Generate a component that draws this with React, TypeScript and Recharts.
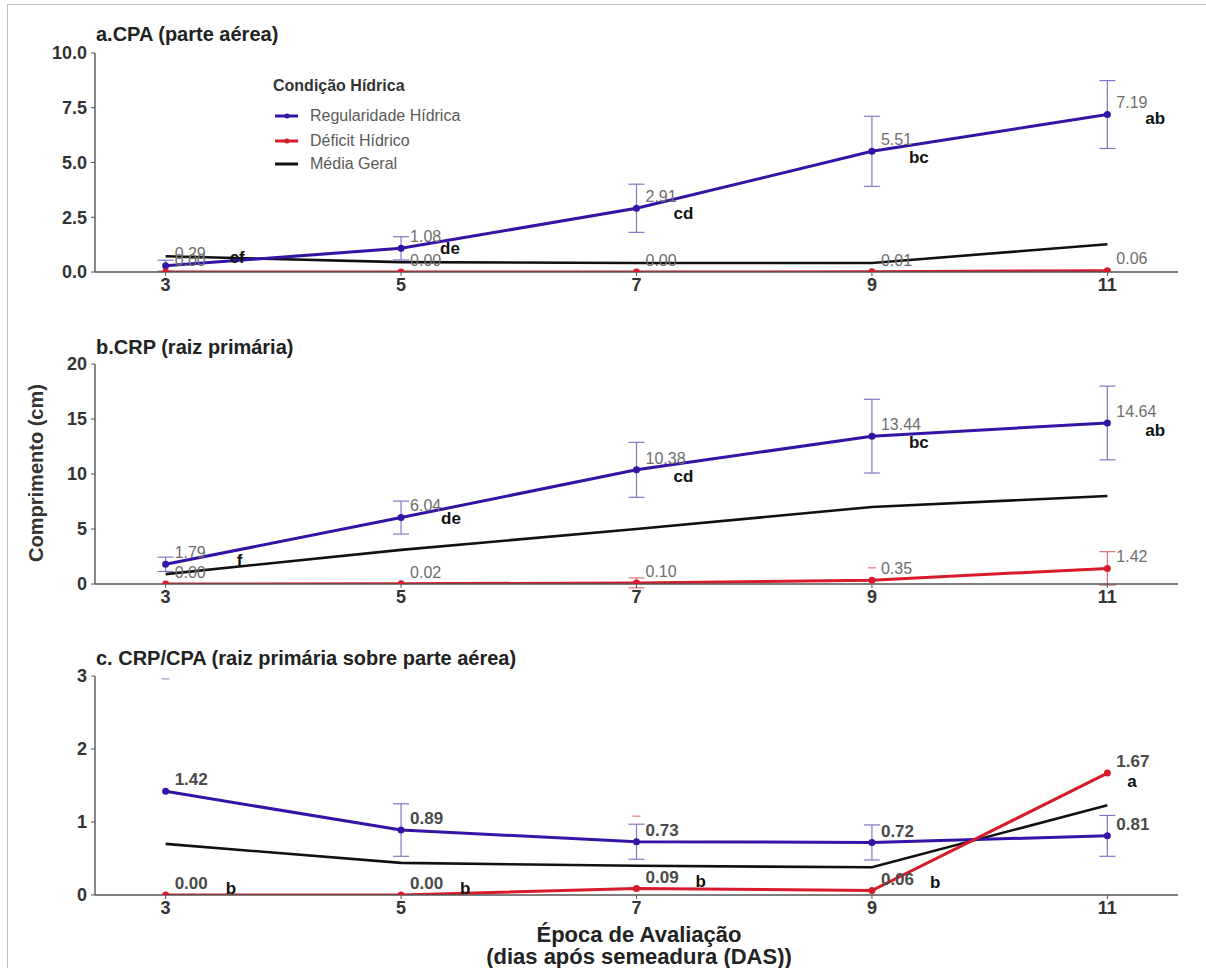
import React from "react";
import { ComposedChart, Line, XAxis, YAxis, ErrorBar, LabelList, Scatter } from "recharts";

const days = [3, 5, 7, 9, 11];

// a. CPA (parte aérea)
const cpaRegular = [0.29, 1.08, 2.91, 5.51, 7.19];
const cpaRegularErr = [0.25, 0.53, 1.1, 1.6, 1.55];
const cpaDeficit = [0.0, 0.0, 0.0, 0.01, 0.06];
const cpaDeficitErr = [0, 0, 0, 0, 0];
const cpaMedia = [0.72, 0.45, 0.41, 0.41, 1.27];
const cpaLetters = ["ef", "de", "cd", "bc", "ab"];
const cpaTicks = [0, 2.5, 5, 7.5, 10];

// b. CRP (raiz primária)
const crpRegular = [1.79, 6.04, 10.38, 13.44, 14.64];
const crpRegularErr = [0.65, 1.5, 2.5, 3.35, 3.35];
const crpDeficit = [0.0, 0.02, 0.1, 0.35, 1.42];
const crpDeficitErr = [0, 0, 0.45, 0, 1.52];
const crpDeficitCaps = [{ das: 9, cap: 1.47 }];
const crpMedia = [0.9, 3.1, 5.0, 7.0, 8.0];
const crpLetters = ["f", "de", "cd", "bc", "ab"];
const crpTicks = [0, 5, 10, 15, 20];

// c. CRP/CPA
const razaoRegular = [1.42, 0.89, 0.73, 0.72, 0.81];
const razaoRegularErr = [0, 0.36, 0.24, 0.24, 0.28];
const razaoRegularCaps = [{ das: 3, cap: 2.96 }];
const razaoDeficit = [0.0, 0.0, 0.09, 0.06, 1.67];
const razaoDeficitErr = [0, 0, 0, 0, 0];
const razaoDeficitCaps = [{ das: 7, cap: 1.08 }];
const razaoMedia = [0.7, 0.44, 0.4, 0.38, 1.23];
const razaoLetters = ["b", "b", "b", "b", "a"];
const razaoTicks = [0, 1, 2, 3];

const legendItems = ["Regularidade Hídrica", "Déficit Hídrico", "Média Geral"];

const BLUE = "#3414a4";
const RED = "#d81b2a";
const BLACK = "#111111";
const FONT = "'Liberation Sans', Arial, Helvetica, sans-serif";

const buildRows = (reg: number[], regErr: number[], def: number[], defErr: number[], media: number[]) =>
  days.map((das, i) => ({ das, reg: reg[i], regErr: regErr[i], def: def[i], defErr: defErr[i], media: media[i] }));

const capShape = (color: string) => (p: any) => (
  <line x1={p.cx - 4} x2={p.cx + 4} y1={p.cy} y2={p.cy} stroke={color} strokeWidth={1.2} strokeOpacity={0.6} />
);

function Panel(props: {
  top: number;
  height: number;
  marginTop: number;
  rows: any[];
  ticks: number[];
  decimals: number;
  letters: string[];
  letterSeries: "reg" | "def";
  letterDx: number[];
  letterDy: number[];
  strongLabels: boolean;
  blueCaps?: any[];
  redCaps?: any[];
}) {
  const { top, height, marginTop, rows, ticks, decimals, letters, letterSeries, strongLabels, letterDx, letterDy } = props;
  const max = ticks[ticks.length - 1];

  const valueLabel = (p: any) => (
    <text
      x={p.x + 9}
      y={p.y - 12}
      dy="0.36em"
      fill={strongLabels ? "#4a4a4a" : "#6e6e6e"}
      fontSize={strongLabels ? 17 : 16}
      fontWeight={strongLabels ? "bold" : "normal"}
      fontFamily={FONT}
    >
      {Number(p.value).toFixed(2)}
    </text>
  );

  const letterLabel = (p: any) => (
    <text
      x={p.x + letterDx[p.index]}
      y={p.y + letterDy[p.index]}
      dy="0.36em"
      fill="#111"
      fontSize={17}
      fontWeight="bold"
      fontFamily={FONT}
    >
      {letters[p.index]}
    </text>
  );

  return (
    <div style={{ position: "absolute", left: 0, top }}>
      <ComposedChart width={1206} height={height} data={rows} margin={{ top: marginTop, right: 28, left: 35, bottom: 0 }}>
        <XAxis
          type="number"
          dataKey="das"
          domain={[2.4, 11.6]}
          ticks={days}
          height={30}
          tickSize={4}
          tickMargin={2}
          axisLine={{ stroke: "#555", strokeWidth: 1.4 }}
          tickLine={{ stroke: "#555" }}
          tick={{ fill: "#333", fontSize: 18, fontWeight: "bold", fontFamily: FONT }}
        />
        <YAxis
          type="number"
          domain={[0, max]}
          ticks={ticks}
          allowDataOverflow
          width={60}
          tickSize={4}
          tickMargin={4}
          tickFormatter={(v: number) => v.toFixed(decimals)}
          axisLine={{ stroke: "#555", strokeWidth: 1.4 }}
          tickLine={{ stroke: "#555" }}
          tick={{ fill: "#333", fontSize: 18, fontWeight: "bold", fontFamily: FONT }}
        />
        <Line type="linear" dataKey="media" stroke={BLACK} strokeWidth={2.6} dot={false} activeDot={false} isAnimationActive={false} />
        <Line
          type="linear"
          dataKey="reg"
          stroke={BLUE}
          strokeWidth={3}
          dot={{ r: 2, fill: BLUE, stroke: BLUE }}
          activeDot={false}
          isAnimationActive={false}
        >
          <ErrorBar dataKey="regErr" direction="y" width={8} stroke="#8077c4" strokeWidth={1.2} isAnimationActive={false} />
          <LabelList dataKey="reg" content={valueLabel} />
          {letterSeries === "reg" && <LabelList dataKey="reg" content={letterLabel} />}
        </Line>
        <Line
          type="linear"
          dataKey="def"
          stroke={RED}
          strokeWidth={3}
          dot={{ r: 2, fill: RED, stroke: RED }}
          activeDot={false}
          isAnimationActive={false}
        >
          <ErrorBar dataKey="defErr" direction="y" width={8} stroke="#e0707a" strokeWidth={1.2} isAnimationActive={false} />
          <LabelList dataKey="def" content={valueLabel} />
          {letterSeries === "def" && <LabelList dataKey="def" content={letterLabel} />}
        </Line>
        {props.blueCaps && (
          <Scatter data={props.blueCaps} dataKey="cap" shape={capShape("#6a5fb0")} isAnimationActive={false} />
        )}
        {props.redCaps && (
          <Scatter data={props.redCaps} dataKey="cap" shape={capShape(RED)} isAnimationActive={false} />
        )}
      </ComposedChart>
    </div>
  );
}

function LegendBox() {
  const colors = [BLUE, RED, BLACK];
  const centers = [116, 141, 164];
  return (
    <>
      <div style={{ position: "absolute", left: 273, top: 75, lineHeight: "22px", fontSize: 16, fontWeight: "bold", color: "#333" }}>
        Condição Hídrica
      </div>
      {legendItems.map((name, i) => (
        <div key={name} style={{ position: "absolute", left: 275, top: centers[i] - 10, height: 20, display: "flex", alignItems: "center" }}>
          <svg width={24} height={20}>
            <line x1={0} x2={23} y1={10} y2={10} stroke={colors[i]} strokeWidth={3} />
            {i < 2 && <circle cx={12} cy={10} r={2.5} fill={colors[i]} />}
          </svg>
          <span style={{ marginLeft: 11, fontSize: 16, color: "#5a5a5a", lineHeight: "20px" }}>{name}</span>
        </div>
      ))}
    </>
  );
}

export default function App() {
  const title: React.CSSProperties = { position: "absolute", left: 96, fontSize: 20, fontWeight: "bold", color: "#222", lineHeight: "24px" };
  return (
    <div
      style={{
        position: "absolute",
        left: 0,
        top: 0,
        width: 1206,
        height: 968,
        background: "#fff",
        fontFamily: FONT,
        overflow: "hidden",
      }}
    >
      <div style={{ position: "absolute", left: 7, top: 4, width: 1210, height: 970, borderLeft: "1px solid #bdbdbd", borderTop: "1px solid #bdbdbd" }} />

      <div style={{ ...title, top: 34 - 12 }}>a.CPA (parte aérea)</div>
      <Panel
        top={0}
        height={302}
        marginTop={53}
        rows={buildRows(cpaRegular, cpaRegularErr, cpaDeficit, cpaDeficitErr, cpaMedia)}
        ticks={cpaTicks}
        decimals={1}
        letters={cpaLetters}
        letterSeries="reg"
        letterDx={[64, 39, 37, 37, 38]}
        letterDy={[-9, 0, 5, 6, 3]}
        strongLabels={false}
      />
      <LegendBox />

      <div style={{ ...title, top: 347 - 12 }}>b.CRP (raiz primária)</div>
      <Panel
        top={310}
        height={304}
        marginTop={54}
        rows={buildRows(crpRegular, crpRegularErr, crpDeficit, crpDeficitErr, crpMedia)}
        ticks={crpTicks}
        decimals={0}
        letters={crpLetters}
        letterSeries="reg"
        letterDx={[71, 40, 37, 37, 38]}
        letterDy={[-4, 0, 6, 6, 7]}
        strongLabels={false}
        redCaps={crpDeficitCaps}
      />

      <div style={{ ...title, top: 658 - 12 }}>c. CRP/CPA (raiz primária sobre parte aérea)</div>
      <Panel
        top={620}
        height={305}
        marginTop={56}
        rows={buildRows(razaoRegular, razaoRegularErr, razaoDeficit, razaoDeficitErr, razaoMedia)}
        ticks={razaoTicks}
        decimals={0}
        letters={razaoLetters}
        letterSeries="def"
        letterDx={[60, 59, 59, 58, 20]}
        letterDy={[-7, -7, -8, -9, 8]}
        strongLabels={true}
        blueCaps={razaoRegularCaps}
        redCaps={razaoDeficitCaps}
      />

      <div
        style={{
          position: "absolute",
          left: 36 - 150,
          top: 473 - 12,
          width: 300,
          height: 24,
          lineHeight: "24px",
          textAlign: "center",
          transform: "rotate(-90deg)",
          fontSize: 20,
          fontWeight: "bold",
          color: "#333",
        }}
      >
        Comprimento (cm)
      </div>

      <div
        style={{
          position: "absolute",
          left: 339,
          top: 935 - 11,
          width: 600,
          textAlign: "center",
          fontSize: 22,
          fontWeight: "bold",
          lineHeight: "22px",
          color: "#222",
        }}
      >
        Época de Avaliação
        <br />
        (dias após semeadura (DAS))
      </div>
    </div>
  );
}
